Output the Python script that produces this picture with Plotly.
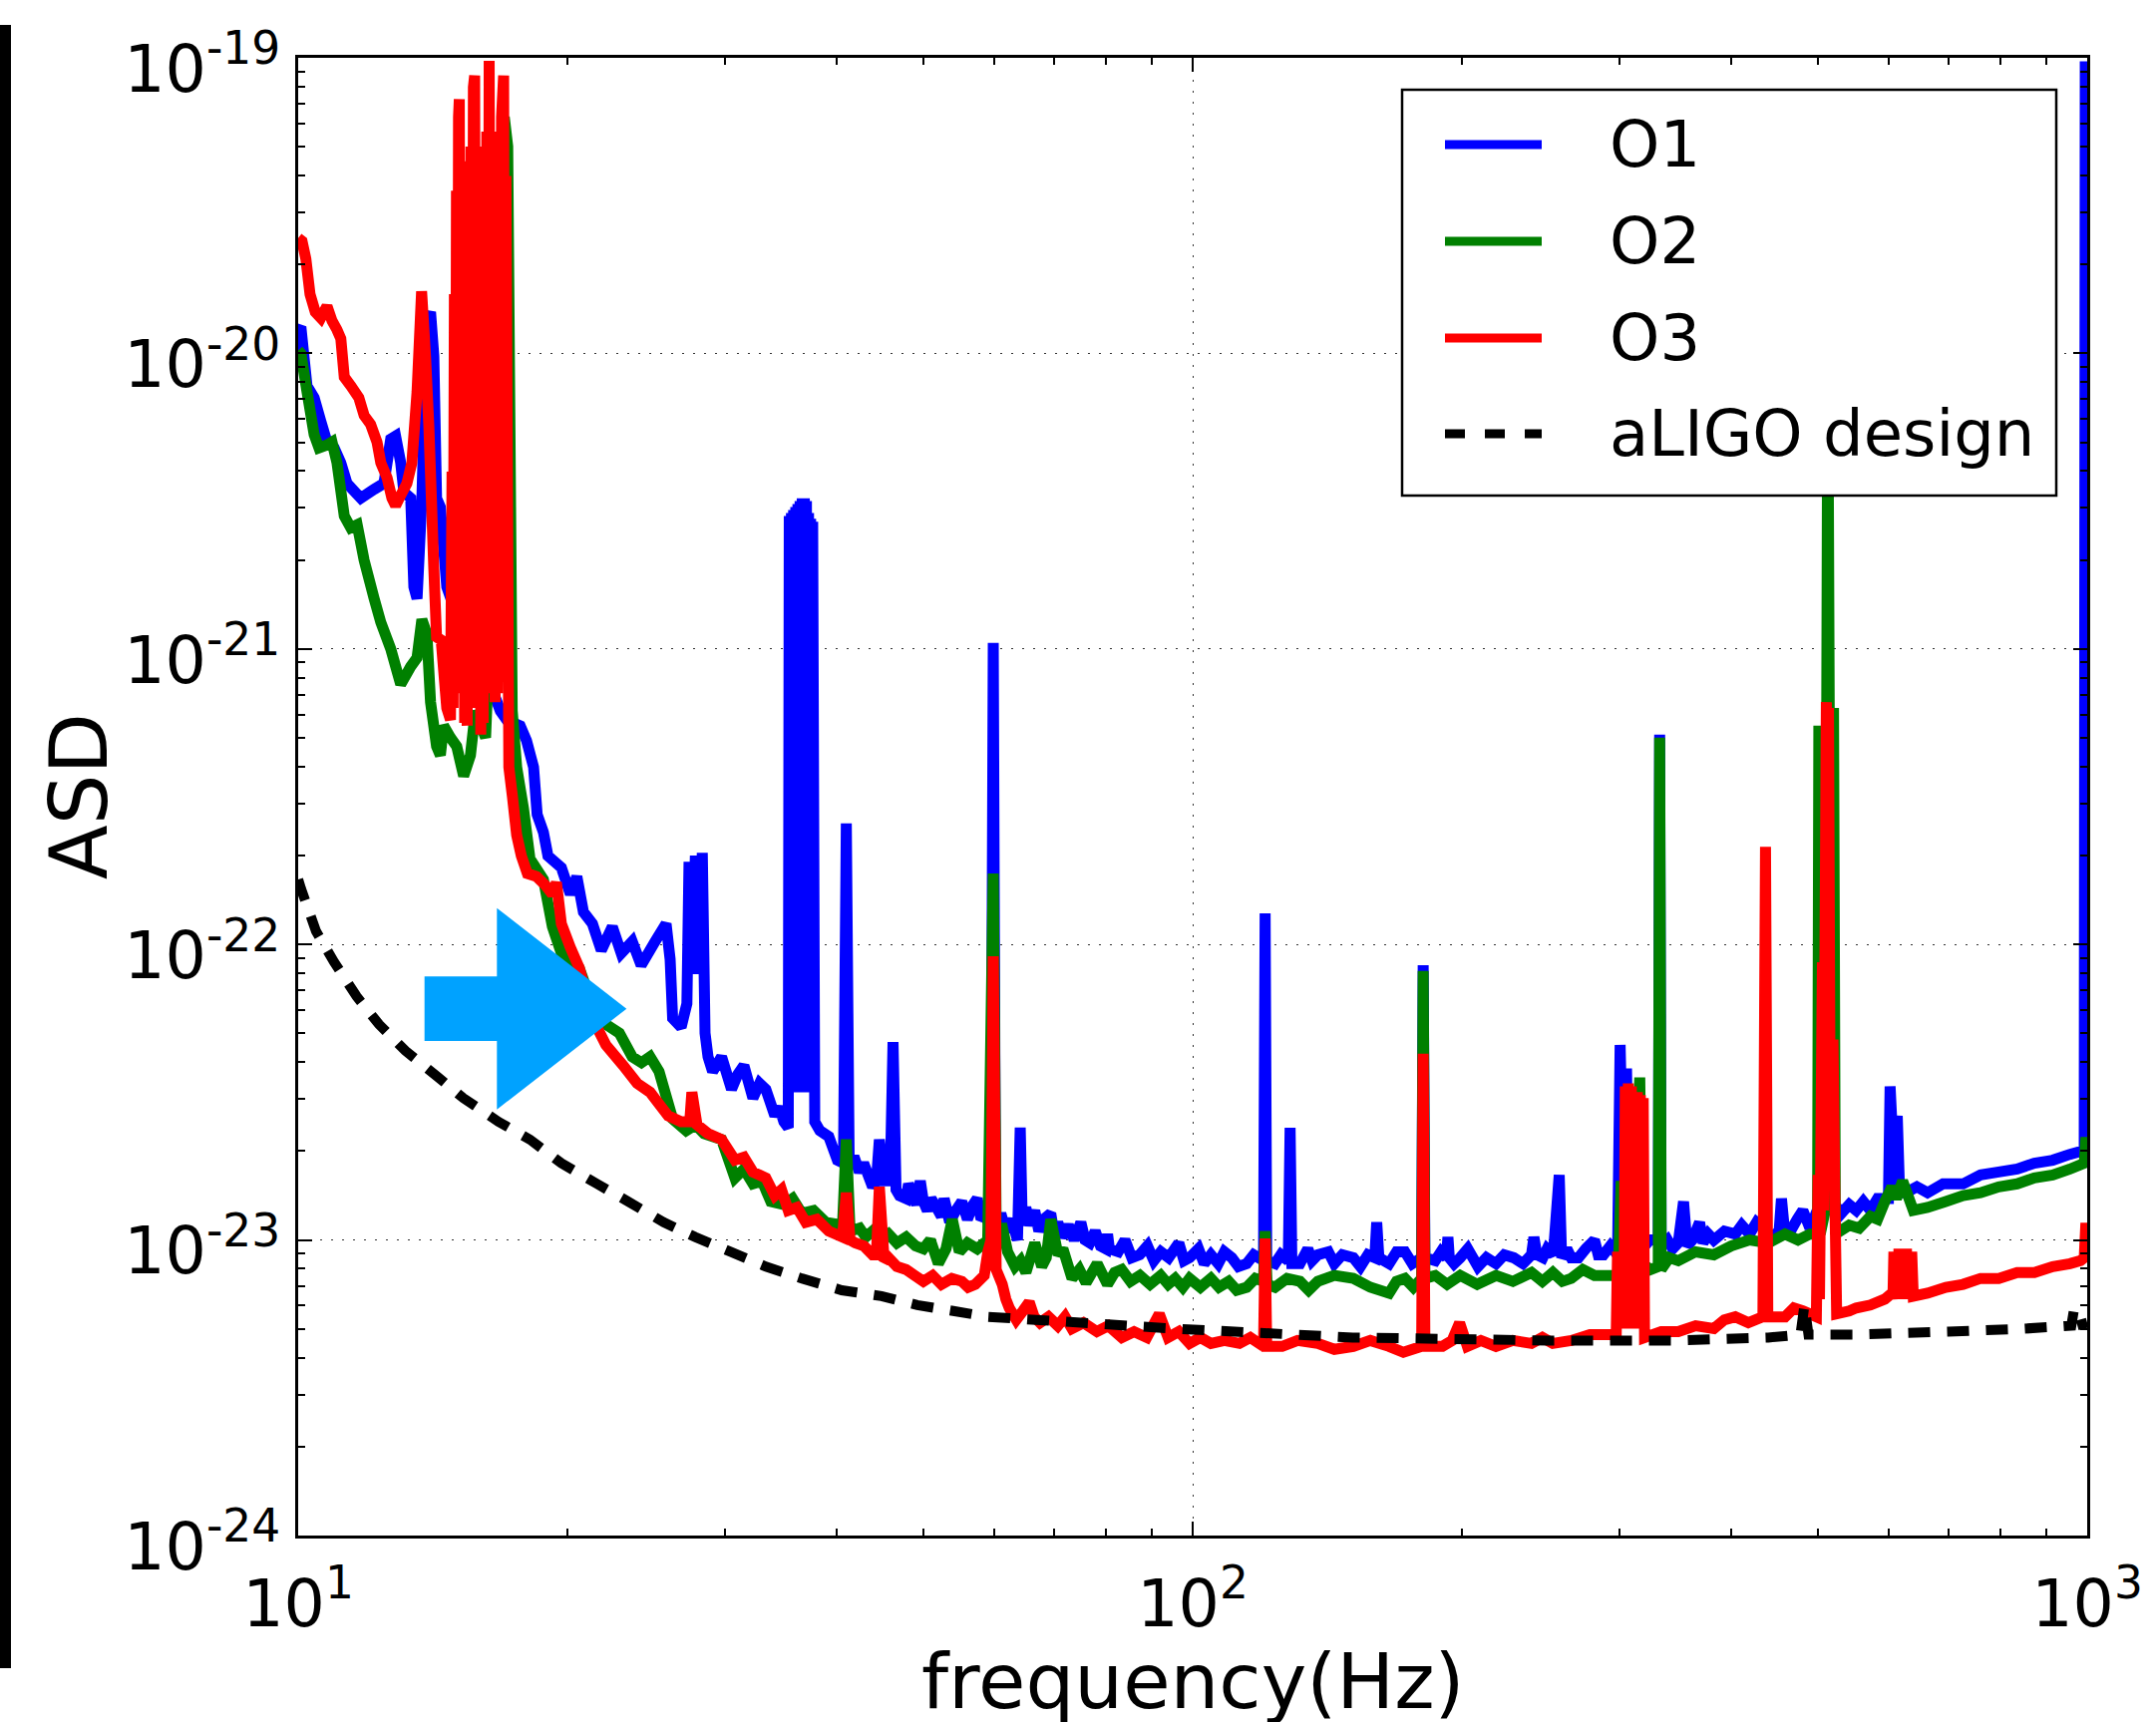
import plotly.graph_objects as go

# ---------------- data (frequency in Hz, log10 of ASD) ----------------
O1_POINTS = [
    (10.0, -19.92), (10.07, -19.91), (10.23, -20.11), (10.42, -20.15), (10.60, -20.23), (10.77, -20.30),
    (10.97, -20.32), (11.16, -20.37), (11.34, -20.44), (11.75, -20.49), (12.16, -20.46), (12.47, -20.44),
    (12.69, -20.29), (12.85, -20.28), (13.02, -20.37), (13.13, -20.47), (13.36, -20.49), (13.47, -20.79),
    (13.58, -20.83), (13.75, -20.49), (13.93, -19.89), (14.06, -19.86), (14.18, -20.01), (14.28, -20.49),
    (14.42, -20.52), (14.66, -20.79), (15.3, -20.95), (16.3, -21.10), (16.83, -21.21), (17.10, -21.24),
    (17.71, -21.26), (18.00, -21.31), (18.33, -21.40), (18.50, -21.56), (18.80, -21.62), (19.02, -21.70),
    (19.69, -21.74), (20.15, -21.83), (20.49, -21.77), (20.84, -21.89), (21.33, -21.93), (21.82, -22.02),
    (22.45, -21.94), (22.97, -22.03), (23.63, -21.99), (24.18, -22.07), (25.06, -21.99), (25.78, -21.93),
    (26.05, -22.05), (26.22, -22.25), (26.80, -22.28), (27.20, -22.20), (27.35, -21.72), (27.55, -22.10),
    (27.80, -21.70), (28.05, -22.10), (28.30, -21.69), (28.50, -22.30), (28.72, -22.38), (29.06, -22.43),
    (29.74, -22.38), (30.51, -22.49), (31.00, -22.44), (31.50, -22.41), (32.24, -22.52), (32.80, -22.47),
    (33.33, -22.49), (34.11, -22.58), (34.50, -22.55), (34.91, -22.60), (35.31, -22.62), (35.40, -20.55),
    (35.50, -22.50), (35.60, -20.54), (35.70, -22.50), (35.80, -20.53), (35.90, -22.50), (36.00, -20.52),
    (36.10, -22.50), (36.20, -20.51), (36.30, -22.50), (36.40, -20.50), (36.50, -22.50), (36.60, -20.49),
    (36.70, -22.50), (36.80, -20.49), (36.90, -22.50), (37.00, -20.50), (37.10, -22.50), (37.20, -20.54),
    (37.30, -22.50), (37.40, -20.56), (37.50, -22.50), (37.60, -20.57), (37.80, -22.60), (38.30, -22.63),
    (39.19, -22.65), (40.07, -22.73), (40.70, -22.74), (41.00, -21.59), (41.30, -22.73), (41.95, -22.73),
    (42.40, -22.77), (42.87, -22.74), (43.87, -22.82), (44.30, -22.80), (44.64, -22.66), (45.20, -22.80),
    (45.90, -22.80), (46.24, -22.33), (46.60, -22.83), (47.02, -22.85), (47.82, -22.86), (48.12, -22.81),
    (49.12, -22.88), (49.60, -22.80), (50.00, -22.87), (50.50, -22.90), (51.00, -22.86), (51.50, -22.88),
    (52.37, -22.92), (52.74, -22.86), (53.50, -22.94), (54.36, -22.90), (55.20, -22.87), (56.00, -22.93),
    (56.84, -22.88), (57.43, -22.86), (58.00, -22.93), (58.48, -22.92), (59.50, -22.95), (59.85, -20.98),
    (60.20, -22.95), (61.03, -22.91), (61.80, -22.97), (62.74, -22.93), (63.70, -23.00), (64.15, -22.62),
    (64.50, -22.95), (65.08, -22.89), (65.80, -22.95), (66.59, -22.90), (67.30, -22.97), (68.12, -22.93),
    (69.39, -22.91), (70.00, -22.98), (70.66, -22.94), (71.50, -22.99), (72.62, -22.95), (73.70, -23.00),
    (74.98, -22.94), (75.80, -23.00), (76.73, -23.01), (77.80, -22.97), (78.87, -23.02), (80.00, -23.03),
    (80.32, -22.98), (80.70, -23.03), (82.56, -23.04), (84.00, -23.00), (85.50, -23.06), (87.25, -23.05),
    (89.00, -23.02), (90.50, -23.07), (92.13, -23.04), (94.00, -23.06), (96.49, -23.01), (97.80, -23.07),
    (99.21, -23.06), (101.5, -23.03), (103.0, -23.08), (104.8, -23.05), (106.8, -23.08), (108.5, -23.04),
    (110.6, -23.06), (112.5, -23.09), (114.9, -23.08), (117.0, -23.05), (120.0, -23.07), (120.5, -21.895),
    (121.0, -23.07), (123.6, -23.08), (125.5, -23.05), (127.9, -23.07), (128.5, -22.62), (129.1, -23.08),
    (131.8, -23.08), (134.5, -23.03), (136.0, -23.07), (138.0, -23.05), (141.8, -23.04), (144.0, -23.08),
    (147.0, -23.05), (151.2, -23.06), (154.0, -23.09), (157.0, -23.05), (159.8, -23.06), (160.6, -22.94),
    (161.5, -23.06), (165.8, -23.08), (169.0, -23.04), (172.7, -23.04), (176.0, -23.08), (180.3, -23.06),
    (181.0, -22.07), (181.8, -23.06), (186.7, -23.07), (189.5, -23.04), (192.2, -23.06), (192.9, -22.99),
    (193.6, -23.06), (196.0, -23.08), (199.1, -23.06), (203.0, -23.03), (208.4, -23.09), (213.0, -23.06),
    (218.3, -23.08), (223.0, -23.05), (228.5, -23.06), (234.0, -23.08), (239.2, -23.05), (240.7, -22.99),
    (242.5, -23.05), (246.3, -23.06), (249.0, -23.03), (253.0, -23.05), (256.9, -22.78), (258.5, -23.06),
    (262.0, -23.03), (265.0, -23.06), (269.9, -23.06), (275.0, -23.03), (281.3, -23.00), (284.0, -23.05),
    (287.9, -23.05), (293.0, -23.02), (298.5, -23.05), (300.5, -22.34), (303.5, -22.90), (305.5, -22.42),
    (307.5, -23.02), (313.0, -23.00), (318.0, -23.03), (324.3, -23.00), (331.5, -23.00), (332.7, -21.29),
    (334.0, -23.02), (339.5, -23.00), (344.0, -23.03), (349.0, -23.01), (353.8, -22.87), (357.0, -23.02),
    (362.0, -23.00), (368.7, -22.94), (372.0, -23.01), (377.0, -22.98), (382.5, -23.00), (393.0, -22.97),
    (404.2, -22.98), (411.0, -22.95), (419.3, -22.98), (427.0, -22.94), (434.9, -22.96), (444.0, -22.99),
    (452.5, -22.97), (455.2, -22.86), (458.5, -22.96), (467.9, -22.96), (474.0, -22.93), (481.0, -22.90),
    (489.8, -22.96), (496.0, -22.92), (503.5, -22.93), (512.0, -22.89), (522.3, -22.88), (531.0, -22.91),
    (541.9, -22.88), (551.8, -22.90), (562.0, -22.87), (572.4, -22.90), (583.0, -22.86), (593.9, -22.86),
    (599.5, -22.86), (602.1, -22.48), (607.0, -22.70), (613.3, -22.58), (617.0, -22.84), (627.4, -22.84),
    (645.0, -22.82), (663.0, -22.84), (690.0, -22.81), (726.6, -22.81), (760.0, -22.78), (796.3, -22.77),
    (835.0, -22.76), (872.9, -22.74), (915.0, -22.73), (956.5, -22.71), (983.1, -22.70), (992.4, -22.70),
    (995.0, -19.03), (1000.0, -19.03),
]

O2_POINTS = [
    (10.0, -19.99), (10.07, -20.00), (10.23, -20.13), (10.42, -20.275), (10.55, -20.32), (10.77, -20.31),
    (10.91, -20.30), (11.05, -20.37), (11.26, -20.55), (11.45, -20.59), (11.64, -20.58), (11.85, -20.70),
    (12.16, -20.83), (12.37, -20.91), (12.69, -21.00), (13.02, -21.12), (13.36, -21.06), (13.58, -21.03),
    (13.75, -20.90), (13.93, -20.95), (14.06, -21.18), (14.28, -21.33), (14.42, -21.36), (14.54, -21.26),
    (14.80, -21.30), (15.04, -21.33), (15.31, -21.43), (15.58, -21.36), (15.78, -21.21), (16.20, -21.30),
    (16.60, -20.50), (17.00, -19.20), (17.15, -19.30), (17.35, -21.21), (17.55, -21.40), (17.86, -21.54),
    (18.16, -21.71), (18.80, -21.78), (19.24, -21.94), (19.69, -22.03), (20.62, -22.08), (21.30, -22.20),
    (22.08, -22.27), (22.86, -22.30), (23.63, -22.38), (24.20, -22.40), (24.74, -22.38), (25.32, -22.43),
    (26.22, -22.59), (27.15, -22.63), (27.80, -22.61), (28.43, -22.64), (29.74, -22.66), (30.78, -22.79),
    (31.50, -22.76), (32.24, -22.81), (33.00, -22.80), (33.76, -22.87), (34.91, -22.88), (35.70, -22.86),
    (36.56, -22.91), (37.70, -22.90), (38.90, -22.94), (40.60, -22.95), (41.00, -22.66), (41.40, -22.97),
    (42.43, -22.96), (43.10, -22.99), (43.87, -22.97), (44.80, -23.00), (45.71, -22.98), (46.70, -23.01),
    (47.82, -22.99), (49.00, -23.02), (50.00, -23.03), (50.90, -23.00), (51.96, -23.08), (53.00, -23.03),
    (53.86, -22.93), (54.84, -23.04), (56.00, -23.01), (57.43, -23.03), (59.00, -23.00), (59.85, -21.76),
    (60.30, -22.96), (61.30, -22.96), (62.10, -23.04), (63.30, -23.09), (64.20, -23.07), (65.10, -23.11),
    (66.60, -23.01), (67.80, -23.09), (68.60, -23.06), (69.40, -22.93), (70.70, -23.05), (71.60, -23.03),
    (73.30, -23.13), (74.70, -23.10), (76.00, -23.145), (78.20, -23.08), (80.30, -23.15), (81.80, -23.11),
    (83.30, -23.10), (85.20, -23.14), (87.30, -23.12), (89.60, -23.15), (92.10, -23.12), (93.90, -23.15),
    (95.60, -23.13), (97.50, -23.16), (99.20, -23.13), (102.0, -23.16), (104.8, -23.13), (107.0, -23.16),
    (109.7, -23.14), (112.0, -23.17), (114.9, -23.16), (117.5, -23.13), (120.0, -23.14), (120.5, -22.97),
    (121.1, -23.15), (123.6, -23.16), (127.5, -23.13), (131.8, -23.14), (134.8, -23.17), (138.0, -23.14),
    (144.0, -23.12), (151.2, -23.13), (158.0, -23.16), (165.8, -23.18), (169.0, -23.14), (172.7, -23.13),
    (176.5, -23.16), (180.3, -23.13), (181.0, -22.09), (181.8, -23.13), (186.7, -23.12), (192.5, -23.15),
    (199.1, -23.12), (208.0, -23.15), (218.3, -23.12), (228.0, -23.14), (239.2, -23.11), (246.0, -23.14),
    (252.7, -23.11), (259.0, -23.14), (265.0, -23.13), (273.0, -23.10), (281.3, -23.12), (290.5, -23.12),
    (299.0, -23.12), (301.3, -22.80), (303.0, -23.10), (310.5, -23.11), (316.1, -22.45), (318.0, -23.08),
    (325.0, -23.10), (331.5, -23.09), (332.7, -21.30), (334.0, -23.10), (341.0, -23.06), (349.0, -23.07),
    (365.0, -23.04), (382.5, -23.05), (400.0, -23.02), (419.3, -23.00), (440.0, -23.01), (459.4, -22.98),
    (475.0, -23.00), (489.8, -22.98), (499.5, -22.98), (501.2, -21.26), (503.0, -22.98), (509.5, -22.90),
    (512.9, -20.00), (516.5, -22.30), (520.5, -21.20), (523.0, -22.98), (541.9, -22.95), (556.0, -22.96),
    (572.4, -22.92), (583.0, -22.93), (593.9, -22.87), (604.8, -22.82), (612.0, -22.86), (621.8, -22.80),
    (639.1, -22.90), (663.0, -22.89), (695.0, -22.87), (726.6, -22.85), (760.0, -22.84), (796.3, -22.82),
    (835.0, -22.81), (872.9, -22.79), (915.0, -22.78), (956.5, -22.76), (992.4, -22.74), (996.0, -22.67),
    (1000.0, -22.67),
]

O3_POINTS = [
    (10.0, -19.61), (10.10, -19.62), (10.20, -19.68), (10.31, -19.80), (10.45, -19.86), (10.60, -19.88),
    (10.77, -19.84), (10.91, -19.89), (11.05, -19.92), (11.16, -19.95), (11.26, -20.08), (11.45, -20.11),
    (11.69, -20.15), (11.85, -20.21), (12.05, -20.24), (12.25, -20.30), (12.37, -20.37), (12.57, -20.42),
    (12.73, -20.49), (12.85, -20.515), (13.02, -20.48), (13.23, -20.44), (13.40, -20.37), (13.58, -20.13),
    (13.74, -19.79), (13.88, -20.01), (14.00, -20.25), (14.18, -20.73), (14.28, -20.96), (14.45, -20.97),
    (14.66, -21.20), (14.80, -21.24), (14.86, -20.40), (14.90, -21.20), (14.95, -19.80), (14.99, -21.15),
    (15.03, -19.45), (15.07, -21.10), (15.11, -19.20), (15.14, -19.14), (15.18, -21.05), (15.22, -19.35),
    (15.26, -21.15), (15.30, -19.70), (15.35, -21.25), (15.40, -19.95), (15.45, -21.26), (15.50, -19.65),
    (15.55, -21.20), (15.60, -19.30), (15.65, -21.10), (15.70, -19.10), (15.75, -19.06), (15.80, -21.10),
    (15.85, -19.30), (15.90, -21.20), (15.95, -19.60), (16.00, -21.29), (16.05, -19.90), (16.10, -21.25),
    (16.15, -19.55), (16.20, -21.15), (16.25, -19.25), (16.30, -21.05), (16.35, -19.01), (16.40, -21.05),
    (16.45, -19.25), (16.50, -21.15), (16.55, -19.55), (16.60, -21.18), (16.65, -19.85), (16.70, -21.15),
    (16.76, -19.50), (16.82, -21.05), (16.88, -19.20), (16.97, -19.06), (17.02, -21.00), (17.07, -19.40),
    (17.20, -21.40), (17.36, -21.50), (17.55, -21.63), (17.76, -21.70), (18.04, -21.76), (18.47, -21.77),
    (18.90, -21.80), (19.24, -21.83), (19.44, -21.79), (19.69, -21.93), (20.15, -22.01), (20.62, -22.08),
    (21.33, -22.25), (22.08, -22.34), (23.09, -22.41), (23.93, -22.47), (24.74, -22.50), (25.32, -22.54),
    (25.92, -22.58), (26.80, -22.60), (27.40, -22.60), (27.55, -22.50), (27.92, -22.61), (28.72, -22.64),
    (29.74, -22.66), (30.78, -22.73), (31.50, -22.72), (32.24, -22.77), (33.33, -22.79), (34.11, -22.85),
    (34.70, -22.83), (35.31, -22.90), (36.10, -22.89), (36.94, -22.94), (38.00, -22.93), (39.19, -22.97),
    (40.60, -22.99), (41.00, -22.84), (41.40, -23.00), (41.95, -23.01), (42.90, -23.02), (43.87, -23.05),
    (44.30, -23.05), (44.64, -22.82), (45.20, -23.07), (45.71, -23.06), (46.70, -23.09), (47.82, -23.10),
    (48.90, -23.12), (50.00, -23.14), (51.20, -23.12), (52.37, -23.15), (53.80, -23.13), (55.20, -23.14),
    (56.10, -23.16), (57.14, -23.15), (58.48, -23.12), (59.03, -23.04), (59.50, -23.00), (59.85, -22.04),
    (60.30, -23.10), (61.25, -23.15), (61.82, -23.20), (62.37, -23.23), (63.50, -23.27), (64.60, -23.24),
    (65.65, -23.21), (66.50, -23.26), (67.50, -23.28), (69.00, -23.26), (70.66, -23.29), (72.00, -23.26),
    (73.29, -23.30), (75.50, -23.28), (78.15, -23.31), (80.50, -23.29), (83.33, -23.33), (86.00, -23.31),
    (88.85, -23.33), (91.75, -23.25), (93.87, -23.33), (96.50, -23.31), (99.21, -23.35), (102.0, -23.33),
    (104.8, -23.35), (108.5, -23.34), (112.8, -23.35), (116.0, -23.33), (120.0, -23.36), (120.5, -22.995),
    (121.0, -23.36), (125.9, -23.36), (131.0, -23.34), (138.0, -23.35), (144.0, -23.37), (151.2, -23.36),
    (158.0, -23.34), (165.8, -23.36), (172.0, -23.38), (180.3, -23.36), (181.0, -22.37), (181.8, -23.36),
    (190.2, -23.36), (195.0, -23.34), (198.8, -23.28), (202.8, -23.36), (210.0, -23.34), (218.3, -23.36),
    (228.0, -23.34), (239.2, -23.35), (246.0, -23.33), (252.7, -23.35), (265.0, -23.34), (278.0, -23.32),
    (290.5, -23.32), (297.5, -23.32), (298.5, -23.04), (299.5, -23.30), (300.5, -23.04), (301.5, -23.30),
    (302.5, -23.04), (303.5, -23.30), (304.5, -22.48), (305.7, -23.30), (306.9, -22.47), (308.1, -23.30),
    (309.3, -22.48), (310.5, -23.30), (311.7, -22.50), (312.9, -23.30), (314.1, -22.50), (315.3, -23.30),
    (316.5, -22.51), (317.7, -23.30), (318.9, -22.52), (320.0, -23.33), (334.0, -23.31), (349.0, -23.31),
    (365.0, -23.29), (382.5, -23.30), (393.0, -23.27), (404.2, -23.26), (418.0, -23.28), (434.0, -23.26),
    (436.9, -21.67), (439.5, -23.26), (459.4, -23.26), (470.0, -23.23), (481.0, -23.24), (498.0, -23.26),
    (500.3, -22.78), (502.0, -23.20), (503.5, -22.78), (505.8, -22.06), (507.5, -22.90), (509.1, -22.06),
    (511.0, -21.18), (512.5, -22.50), (513.8, -21.20), (516.0, -22.60), (517.5, -22.34), (519.9, -22.34),
    (522.0, -22.80), (524.7, -23.25), (541.9, -23.24), (551.8, -23.23), (572.4, -23.22), (593.9, -23.20),
    (604.8, -23.18), (606.5, -23.20), (608.0, -23.04), (610.0, -23.20), (612.0, -23.04), (614.0, -23.20),
    (616.0, -23.03), (618.0, -23.20), (620.0, -23.03), (622.0, -23.20), (624.0, -23.03), (626.0, -23.20),
    (628.0, -23.03), (630.0, -23.20), (632.0, -23.04), (634.0, -23.20), (636.5, -23.04), (639.1, -23.19),
    (663.0, -23.18), (695.0, -23.16), (726.6, -23.15), (760.0, -23.13), (796.3, -23.13), (835.0, -23.11),
    (872.9, -23.11), (915.0, -23.09), (956.5, -23.08), (983.1, -23.07), (992.4, -23.06), (996.0, -22.96),
    (1000.0, -22.96),
]

ALIGO_POINTS = [
    (10.0, -21.78), (10.07, -21.81), (10.47, -21.955), (10.97, -22.06), (11.62, -22.175), (12.31, -22.27),
    (13.18, -22.36), (14.28, -22.445), (15.30, -22.52), (16.75, -22.60), (18.16, -22.66), (19.69, -22.74),
    (21.58, -22.81), (23.39, -22.87), (25.62, -22.94), (27.79, -22.99), (30.43, -23.04), (33.33, -23.09),
    (36.56, -23.13), (40.52, -23.17), (44.89, -23.19), (49.22, -23.22), (53.98, -23.24), (59.07, -23.26),
    (95.6, -23.30), (151.0, -23.33), (250.0, -23.34), (350.0, -23.34), (440.0, -23.33), (478.0, -23.32),
    (483.0, -23.22), (488.0, -23.32), (550.0, -23.32), (700.0, -23.31), (850.0, -23.30), (960.0, -23.29),
    (966.0, -23.24), (972.0, -23.29), (1000.0, -23.28),
]

SERIES_NAMES = ["O1", "O2", "O3", "aLIGO design"]
SERIES_COLORS = ["#0000FF", "#008000", "#FF0000", "#000000"]

X_TICK_VALUES = [10, 100, 1000]
X_TICK_TEXT = ["10<sup>1</sup>", "10<sup>2</sup>", "10<sup>3</sup>"]
Y_TICK_VALUES = [1e-24, 1e-23, 1e-22, 1e-21, 1e-20, 1e-19]
Y_TICK_TEXT = ["10<sup>-24</sup>", "10<sup>-23</sup>", "10<sup>-22</sup>",
               "10<sup>-21</sup>", "10<sup>-20</sup>", "10<sup>-19</sup>"]

X_TITLE = "frequency(Hz)"
Y_TITLE = "ASD"

# ---------------- figure geometry (pixels) ----------------
W, H = 2162, 1727
L, R, T, B = 299, 2093, 58, 1540
PW, PH = R - L, B - T


def px(x):
    return (x - L) / PW


def py(y):
    return (B - y) / PH


FONT = "DejaVu Sans"

fig = go.Figure()
for pts, name, color, dash, width in [
    (O1_POINTS, SERIES_NAMES[0], SERIES_COLORS[0], "solid", 11),
    (O2_POINTS, SERIES_NAMES[1], SERIES_COLORS[1], "solid", 11),
    (O3_POINTS, SERIES_NAMES[2], SERIES_COLORS[2], "solid", 11),
    (ALIGO_POINTS, SERIES_NAMES[3], SERIES_COLORS[3], "22px,17px", 10),
]:
    fig.add_trace(go.Scatter(
        x=[p[0] for p in pts],
        y=[10 ** p[1] for p in pts],
        mode="lines",
        name=name,
        line=dict(color=color, width=width, dash=dash, simplify=False),
        showlegend=False,
        hoverinfo="skip",
    ))

axis_common = dict(
    type="log",
    showline=True, linecolor="black", linewidth=2.5, mirror="allticks",
    ticks="inside", ticklen=14, tickwidth=1.5, tickcolor="black",
    showgrid=True, gridcolor="#333333", gridwidth=1.2, griddash="2px,9px",
    zeroline=False,
    tickfont=dict(family=FONT, size=65, color="black"),
    minor=dict(ticks="inside", ticklen=7, tickwidth=1.5, tickcolor="black", dtick="D1", showgrid=False),
)

fig.update_xaxes(
    **axis_common,
    range=[1, 3],
    tickmode="array", tickvals=X_TICK_VALUES, ticktext=X_TICK_TEXT,
    ticklabelstandoff=10,
)
fig.update_yaxes(
    **axis_common,
    range=[-24, -19],
    tickmode="array", tickvals=Y_TICK_VALUES, ticktext=Y_TICK_TEXT,
    ticklabelstandoff=2, ticklabelshift=11,
)

shapes = []
# black bar at the very left of the picture
shapes.append(dict(type="rect", xref="paper", yref="paper",
                   x0=px(0), x1=px(11), y0=py(1673), y1=py(25),
                   fillcolor="black", line=dict(width=0), layer="above"))
# blue block arrow
arrow = [(425.7, 979.3), (498.3, 979.3), (498.3, 910.7), (628.3, 1011.7),
         (498.3, 1112.7), (498.3, 1044.0), (425.7, 1044.0)]
path = "M " + " L ".join(f"{px(a):.5f},{py(b):.5f}" for a, b in arrow) + " Z"
shapes.append(dict(type="path", xref="paper", yref="paper", path=path,
                   fillcolor="#00A2FF", line=dict(width=0), layer="above"))
# legend box
shapes.append(dict(type="rect", xref="paper", yref="paper",
                   x0=px(1406), x1=px(2062), y0=py(497), y1=py(90),
                   fillcolor="white", line=dict(color="black", width=2.5), layer="above"))
legend_rows = [145, 242, 339, 435]
annotations = []
for row_y, name, color, dash in zip(legend_rows, SERIES_NAMES, SERIES_COLORS,
                                    ["solid", "solid", "solid", "20px,20px"]):
    shapes.append(dict(type="line", xref="paper", yref="paper",
                       x0=px(1449), x1=px(1546), y0=py(row_y), y1=py(row_y),
                       line=dict(color=color, width=9, dash=dash), layer="above"))
    annotations.append(dict(xref="paper", yref="paper", x=px(1612), y=py(row_y),
                            xanchor="left", yanchor="middle", text=name, showarrow=False,
                            font=dict(family=FONT, size=64, color="black")))

annotations.append(dict(xref="paper", yref="paper", x=px(1196), y=py(1686),
                        xanchor="center", yanchor="middle", text=X_TITLE, showarrow=False,
                        font=dict(family=FONT, size=77, color="black")))
annotations.append(dict(xref="paper", yref="paper", x=px(79), y=py(799),
                        xanchor="center", yanchor="middle", text=Y_TITLE, showarrow=False,
                        textangle=-90, font=dict(family=FONT, size=80, color="black")))

fig.update_layout(
    width=W, height=H,
    margin=dict(l=L, r=W - R, t=T, b=H - B, autoexpand=False),
    paper_bgcolor="white", plot_bgcolor="white",
    shapes=shapes, annotations=annotations,
    showlegend=False,
    font=dict(family=FONT, color="black"),
)

fig.write_html(
    "out.html",
    config={"displayModeBar": False},
    post_script="document.body.style.margin='0px';document.body.style.overflow='hidden';",
)
